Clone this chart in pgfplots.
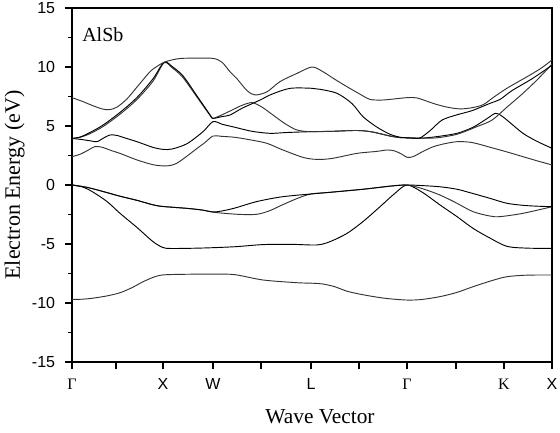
\documentclass[border=0pt]{standalone}
\usepackage{fontspec}
\setmainfont{Liberation Serif}
\setsansfont{Liberation Sans}
\usepackage{pgfplots}
\pgfplotsset{compat=1.18}

\begin{document}
\begin{tikzpicture}
\begin{axis}[
  name=ax,
  scale only axis,
  width=360pt, height=265.5pt,
  xmin=0, xmax=480, ymin=-15, ymax=15,
  xtick={0,44,91,141,189,239,287,335,384,432,480},
  xticklabels={{\rmfamily Γ},,X,W,,L,,{\rmfamily Γ},,{\rmfamily K},X},
  ytick={-15,-10,-5,0,5,10,15},
  yticklabels={-15,-10,-5,0,5,10,15},
  minor ytick={-12.5,-7.5,-2.5,2.5,7.5,12.5},
  tick pos=left, tick align=outside,
  major tick length=5pt, minor tick length=3pt,
  every tick/.style={black, line width=0.8pt},
  axis line style={line width=0.9pt},
  ticklabel style={font=\sffamily\fontsize{12}{12}\selectfont, inner sep=0pt},
  xticklabel style={anchor=base, yshift=-15.75pt},
  yticklabel style={anchor=east, xshift=-7.5pt},
  cycle list={{black!80, solid}},
  every axis plot post/.append style={line width=0.7pt, smooth, tension=0.5, mark=none},
  clip=true,
]
% deepest valence band
\addplot coordinates {(0,-9.7)(10,-9.68)(20,-9.6)(35,-9.4)(48,-9.13)(60,-8.7)(71,-8.2)(82,-7.8)(91,-7.62)(110,-7.57)(141,-7.55)(163,-7.6)(191,-8.05)(225,-8.28)(239,-8.32)(250,-8.38)(262,-8.6)(275,-9.0)(288,-9.25)(301,-9.45)(315,-9.62)(335,-9.75)(350,-9.7)(368,-9.46)(385,-9.1)(401,-8.62)(420,-8.1)(435,-7.77)(455,-7.64)(480,-7.63)};
% valence band 2
\addplot coordinates {(0,0)(10,-0.15)(20,-0.55)(35,-1.4)(48,-2.4)(65,-3.6)(81,-4.8)(91,-5.3)(100,-5.38)(131,-5.34)(163,-5.23)(191,-5.05)(220,-5.03)(245,-5.08)(258,-4.8)(275,-4.1)(291,-3.1)(308,-1.84)(323,-0.7)(335,0)(350,-0.6)(368,-1.69)(385,-2.68)(401,-3.67)(418,-4.5)(435,-5.2)(455,-5.35)(480,-5.37)};
% valence band 3
\addplot coordinates {(0,0)(15,-0.2)(31,-0.55)(48,-0.95)(65,-1.3)(81,-1.68)(91,-1.82)(115,-1.98)(130,-2.12)(141,-2.3)(155,-2.42)(170,-2.5)(185,-2.48)(197,-2.2)(210,-1.7)(225,-1.15)(239,-0.76)(258,-0.62)(291,-0.36)(320,-0.08)(335,0)(350,-0.3)(368,-0.85)(385,-1.55)(401,-2.26)(418,-2.63)(428,-2.68)(451,-2.4)(480,-1.84)};
% valence band 4
\addplot coordinates {(0,0)(15,-0.2)(31,-0.55)(48,-0.95)(65,-1.3)(81,-1.68)(91,-1.82)(115,-1.98)(130,-2.12)(141,-2.28)(150,-2.2)(163,-1.95)(185,-1.4)(210,-1.0)(239,-0.76)(258,-0.62)(291,-0.36)(320,-0.08)(335,0)(350,-0.05)(368,-0.15)(385,-0.36)(400,-0.7)(418,-1.13)(435,-1.55)(455,-1.75)(480,-1.84)};
% lowest conduction band
\addplot coordinates {(0,2.4)(8,2.6)(15,2.9)(23,3.25)(30,3.2)(40,2.9)(48,2.68)(65,2.12)(81,1.72)(91,1.62)(98,1.65)(105,1.85)(115,2.45)(125,3.1)(133,3.6)(141,4.15)(150,4.12)(163,4.04)(180,3.8)(195,3.53)(210,3.0)(231,2.34)(245,2.17)(260,2.25)(285,2.68)(305,2.85)(315,2.97)(323,2.88)(330,2.6)(335,2.35)(341,2.4)(350,2.8)(360,3.2)(370,3.45)(385,3.67)(400,3.6)(418,3.2)(435,2.8)(451,2.4)(465,2.05)(480,1.7)};
% conduction band 2
\addplot coordinates {(0,3.95)(10,3.85)(20,3.72)(25,3.67)(32,4.0)(38,4.24)(45,4.2)(51,4.04)(65,3.67)(81,3.19)(91,3.02)(100,3.05)(115,3.5)(131,4.52)(141,5.37)(150,5.15)(163,4.89)(180,4.55)(198,4.38)(215,4.45)(239,4.52)(260,4.55)(285,4.62)(300,4.5)(318,4.15)(328,4.02)(335,4.0)(342,3.97)(350,3.97)(365,4.1)(385,4.38)(400,4.85)(410,5.35)(418,5.8)(423,6.07)(428,5.95)(435,5.5)(451,4.38)(465,3.7)(480,3.11)};
% conduction band 3
\addplot coordinates {(0,3.95)(8,4.04)(18,4.35)(31,4.95)(48,6.0)(65,7.25)(81,8.8)(92,10.35)(100,9.95)(111,9.1)(125,7.45)(138,5.9)(141,5.65)(150,5.95)(160,6.35)(170,6.75)(180,6.98)(190,6.6)(201,5.93)(213,5.2)(225,4.66)(239,4.52)(260,4.55)(285,4.62)(300,4.5)(318,4.15)(328,4.02)(335,4.0)(342,3.97)(350,3.97)(365,4.0)(385,4.3)(405,4.95)(420,5.5)(435,6.6)(450,7.7)(465,8.9)(480,10.25)};
% conduction band 4
\addplot coordinates {(0,3.95)(8,4.06)(18,4.45)(31,5.08)(48,6.15)(65,7.42)(81,9.0)(92,10.4)(100,10.05)(111,9.25)(125,7.55)(138,5.95)(141,5.65)(150,5.8)(158,5.93)(170,6.5)(188,7.2)(200,7.7)(218,8.19)(239,8.2)(248,8.11)(265,7.77)(280,6.9)(291,5.79)(305,4.9)(318,4.3)(328,4.05)(335,4.0)(342,3.97)(348,3.98)(358,4.6)(370,5.5)(385,5.95)(400,6.3)(418,6.92)(428,7.25)(440,8.0)(460,9.0)(480,10.15)};
% conduction band 5
\addplot coordinates {(0,7.4)(10,7.1)(20,6.75)(30,6.45)(37,6.38)(45,6.6)(55,7.3)(65,8.3)(78,9.6)(85,10.05)(92,10.4)(100,10.6)(108,10.72)(120,10.75)(141,10.73)(150,10.4)(158,9.6)(165,9.0)(175,8.0)(183,7.63)(195,7.9)(208,8.76)(225,9.46)(240,10.0)(251,9.6)(262,9.0)(275,8.33)(290,7.6)(298,7.25)(310,7.2)(323,7.3)(335,7.4)(345,7.38)(361,6.92)(375,6.6)(388,6.45)(400,6.55)(411,6.8)(421,7.4)(435,8.2)(458,9.32)(470,9.95)(480,10.6)};
\node[anchor=base west, inner sep=0pt, font=\fontsize{15}{15}\selectfont] at (axis cs:10,12.2) {AlSb};
\end{axis}
\node[rotate=90, anchor=base, inner sep=0pt, font=\fontsize{16.5}{16.5}\selectfont] at ([xshift=-39pt]ax.west) {Electron Energy (eV)};
\node[anchor=base, inner sep=0pt, font=\fontsize{16}{16}\selectfont] at ([xshift=6pt,yshift=-45.75pt]ax.south) {Wave Vector};
\pgfresetboundingbox
\path ([shift={(-54pt,-52.5pt)}]ax.south west) rectangle ([shift={(6pt,6pt)}]ax.north east);
\end{tikzpicture}
\end{document}
